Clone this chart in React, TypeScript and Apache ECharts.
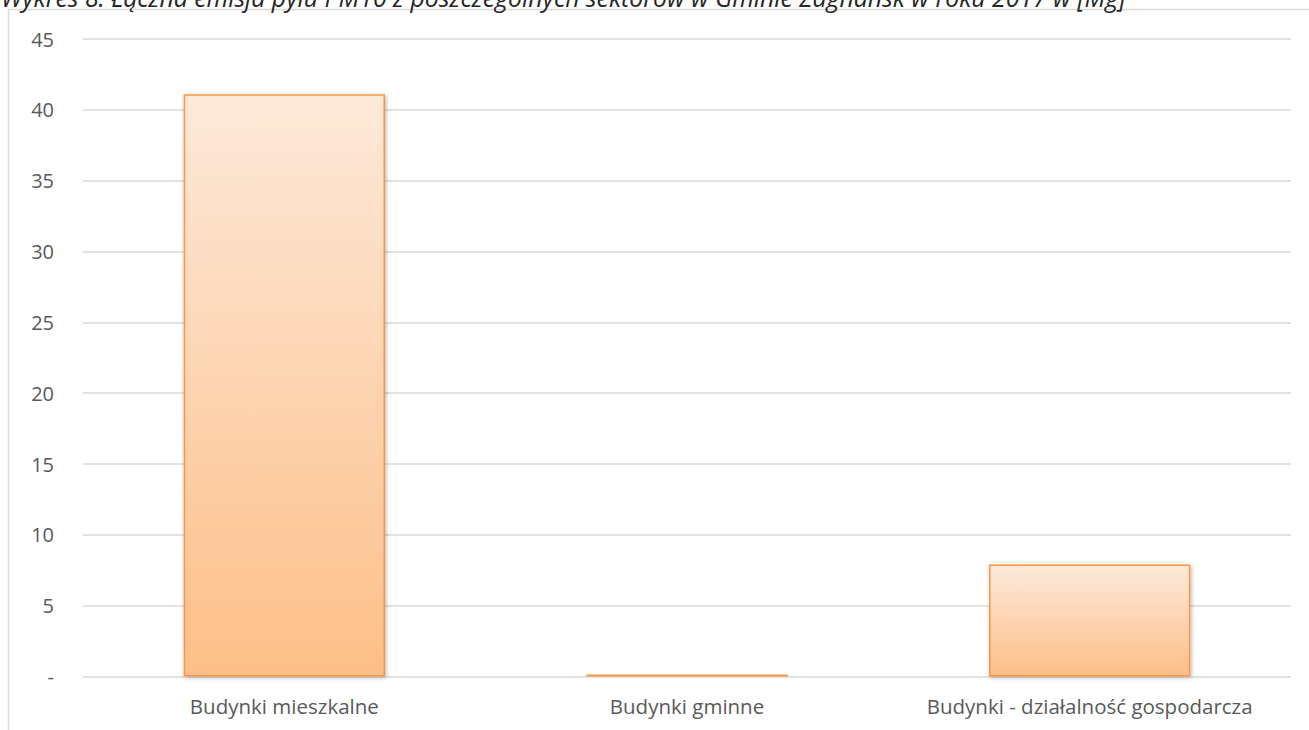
import React, { useEffect, useRef } from "react";
import * as echarts from "echarts";

const titleText =
  "Wykres 8. Łączna emisja pyłu PM10 z poszczególnych sektorów w Gminie Zagnańsk w roku 2017 w [Mg]";
const categories = ["Budynki mieszkalne", "Budynki gminne", "Budynki - działalność gospodarcza"];
const values = [41.1, 0.1, 7.9];
const yMin = 0;
const yMax = 45;
const yInterval = 5;

export default function App() {
  const ref = useRef<HTMLDivElement>(null);
  useEffect(() => {
    if (!ref.current) return;
    const chart = echarts.init(ref.current, undefined, { renderer: "svg" });
    const font = "'Open Sans', 'Noto Sans', sans-serif";
    chart.setOption({
      animation: false,
      backgroundColor: "#ffffff",
      grid: { left: 83, right: 18, top: 39, bottom: 53.5 },
      xAxis: {
        type: "category",
        data: categories,
        axisLine: { show: false },
        axisTick: { show: false },
        axisLabel: {
          color: "#595959",
          fontSize: 20.5,
          fontFamily: font,
          margin: 19,
          interval: 0,
        },
      },
      yAxis: {
        type: "value",
        min: yMin,
        max: yMax,
        interval: yInterval,
        axisLine: { show: false },
        axisTick: { show: false },
        splitLine: { lineStyle: { color: "#d9d9d9", width: 1.5 } },
        axisLabel: {
          color: "#595959",
          fontSize: 20,
          fontFamily: font,
          margin: 29,
          formatter: (v: number) => (v === 0 ? "-" : String(v)),
        },
      },
      series: [
        {
          type: "bar",
          data: values,
          barWidth: "50%",
          barMinHeight: 2,
          z: 3,
          itemStyle: {
            color: new echarts.graphic.LinearGradient(0, 0, 0, 1, [
              { offset: 0, color: "#fde9d9" },
              { offset: 1, color: "#fdbf88" },
            ]),
            borderColor: "#f79646",
            borderWidth: 1.5,
            shadowBlur: 4,
            shadowColor: "rgba(0,0,0,0.3)",
            shadowOffsetX: 1,
            shadowOffsetY: 1,
          },
        },
      ],
      graphic: [
        {
          type: "rect",
          shape: { x: 8.5, y: 9.5, width: 1400, height: 800 },
          style: { fill: "none", stroke: "#d9d9d9", lineWidth: 1.5 },
          silent: true,
        },
        {
          type: "text",
          x: 1,
          y: 9,
          style: {
            text: titleText,
            fill: "#262626",
            font: "italic 24.8px 'Open Sans', sans-serif",
            align: "left",
            verticalAlign: "bottom",
          },
        },
      ],
    });
    return () => chart.dispose();
  }, []);
  return (
    <div
      ref={ref}
      style={{ position: "absolute", left: 0, top: 0, width: 1309, height: 730 }}
    />
  );
}
